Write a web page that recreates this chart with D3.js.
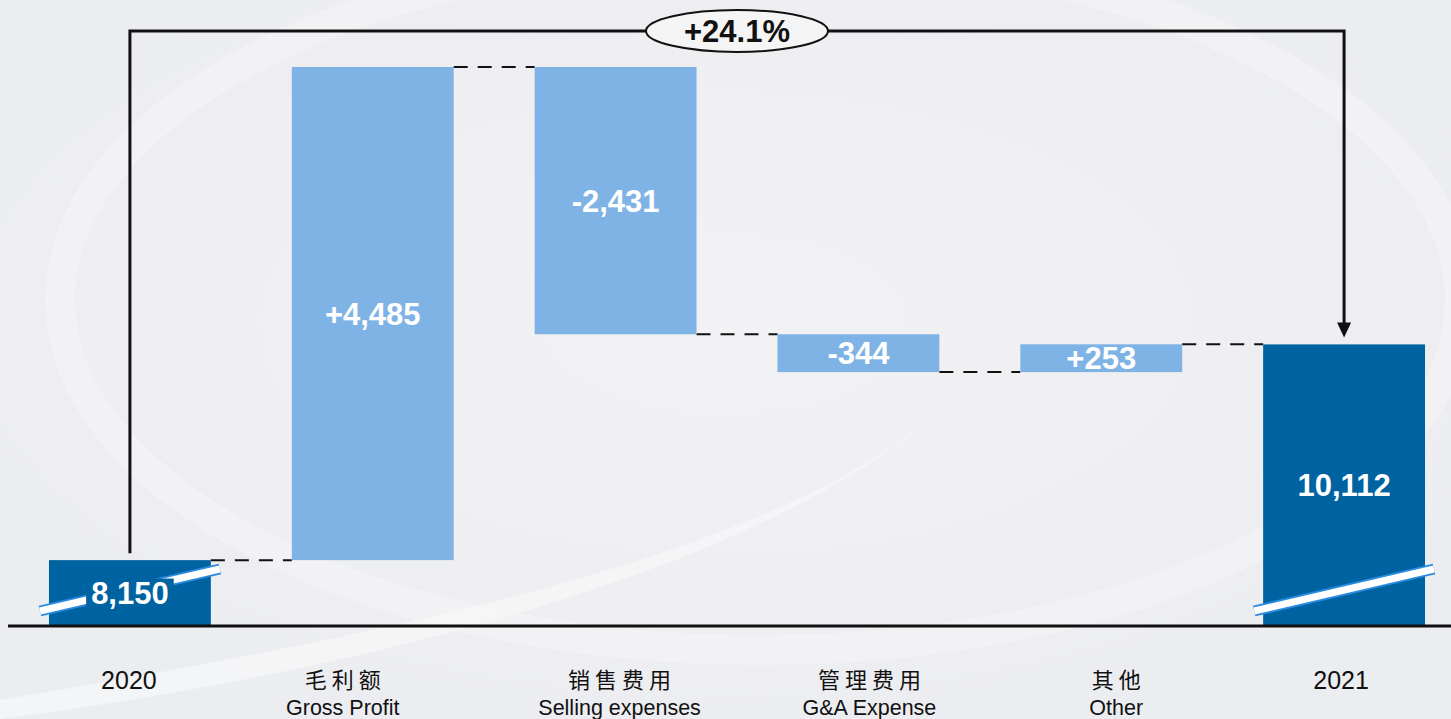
<!DOCTYPE html>
<html lang="zh">
<head>
<meta charset="utf-8">
<title>Waterfall 2020-2021</title>
<script src="https://cdn.jsdelivr.net/npm/d3@7"></script>
<style>
  html, body { margin: 0; padding: 0; overflow: hidden; background: #eff0f2; }
  .val { font-family: "Liberation Sans", Arial, sans-serif; font-weight: bold; font-size: 31px; fill: #fff; text-anchor: middle; }
  .cn { font-family: "Noto Sans CJK SC", sans-serif; font-size: 22px; fill: #111; text-anchor: middle; letter-spacing: 5px; }
  .en { font-family: "Liberation Sans", Arial, sans-serif; font-size: 21.5px; fill: #111; text-anchor: middle; }
  .yr { font-family: "Liberation Sans", Arial, sans-serif; font-size: 25px; fill: #111; text-anchor: middle; }
</style>
</head>
<body>
<div id="chart"></div>
<script>
// data
var categories = ["2020", "Gross Profit", "Selling expenses", "G&A Expense", "Other", "2021"];
var cnLabels = ["", "毛利额", "销售费用", "管理费用", "其他", ""];
var values = [8150, 4485, -2431, -344, 253, 10112];
var kinds = ["total", "delta", "delta", "delta", "delta", "total"];
var valueLabels = ["8,150", "+4,485", "-2,431", "-344", "+253", "10,112"];
var growthLabel = "+24.1%";
var axisFloor = 7560;   // broken axis: value shown at the baseline

var W = 1451, H = 719;
var baseY = 625, topY = 67;
// category labels are not exactly centred under the bars in the original
var labelShift = [-1, -30, 4, 11, 15, -3];

var svg = d3.select("#chart").append("svg")
  .attr("width", W).attr("height", H);

// soft background swoosh
var defs = svg.append("defs");
var rg = defs.append("radialGradient").attr("id", "bgGlow")
  .attr("cx", "50%").attr("cy", "45%").attr("r", "60%");
rg.append("stop").attr("offset", "0%").attr("stop-color", "#f2f2f4");
rg.append("stop").attr("offset", "100%").attr("stop-color", "#ecedf0");
svg.append("rect").attr("width", W).attr("height", H).attr("fill", "url(#bgGlow)");
svg.append("ellipse").attr("cx", 760).attr("cy", 300).attr("rx", 700).attr("ry", 350)
  .attr("fill", "none").attr("stroke", "#f5f5f7").attr("stroke-width", 30).attr("opacity", 0.55);
svg.append("path")
  .attr("d", "M0,700 C350,640 800,560 960,390 C820,540 450,660 0,719 Z")
  .attr("fill", "#f6f6f8").attr("opacity", 0.8);

// waterfall steps
var steps = [];
var running = 0;
values.forEach(function(v, i) {
  if (kinds[i] == "total") {
    steps.push({ i: i, start: axisFloor, end: v, level: v });
    running = v;
  } else {
    steps.push({ i: i, start: running, end: running + v, level: running + v });
    running = running + v;
  }
});
var maxV = d3.max(steps, function(d) { return Math.max(d.start, d.end); });

var x = d3.scaleBand()
  .domain(d3.range(categories.length))
  .range([8.5, 1465.5])
  .paddingInner(1 / 3)
  .paddingOuter(1 / 6);

var y = d3.scaleLinear()
  .domain([axisFloor, maxV])
  .range([baseY, topY]);

// connectors
for (var k = 0; k < steps.length - 1; k++) {
  var lv = steps[k].level;
  svg.append("line")
    .attr("x1", x(k) + x.bandwidth()).attr("x2", x(k + 1))
    .attr("y1", y(lv)).attr("y2", y(lv))
    .attr("stroke", "#111").attr("stroke-width", 2)
    .attr("stroke-dasharray", "14,10");
}

// bars
svg.selectAll("rect.bar")
  .data(steps)
  .enter()
  .append("rect")
  .attr("class", "bar")
  .attr("x", function(d) { return x(d.i); })
  .attr("width", x.bandwidth())
  .attr("y", function(d) { return y(Math.max(d.start, d.end)); })
  .attr("height", function(d) { return Math.abs(y(d.start) - y(d.end)); })
  .attr("fill", function(d) { return kinds[d.i] == "total" ? "#0063a1" : "#80b3e5"; });

// break marks on the total bars
steps.filter(function(d) { return kinds[d.i] == "total"; }).forEach(function(d) {
  var x0 = x(d.i) - 9, x1 = x(d.i) + x.bandwidth() + 9;
  var y0 = baseY - 14, y1 = baseY - 56;
  var g = svg.append("g");
  g.append("line").attr("x1", x0).attr("y1", y0).attr("x2", x1).attr("y2", y1)
    .attr("stroke", "#2a8ce0").attr("stroke-width", 11);
  g.append("line").attr("x1", x0).attr("y1", y0).attr("x2", x1).attr("y2", y1)
    .attr("stroke", "#fff").attr("stroke-width", 7);
});

// value labels
steps.forEach(function(d) {
  var cx = x(d.i) + x.bandwidth() / 2;
  var cy = (y(d.start) + y(d.end)) / 2;
  var t = svg.append("text").attr("class", "val").attr("x", cx).attr("y", cy + 11).text(valueLabels[d.i]);
  if (d.i == 0) {
    // label box sits over the break mark
    var bb = t.node().getBBox();
    svg.insert("rect", function() { return t.node(); })
      .attr("x", bb.x - 5).attr("y", bb.y + 3).attr("width", bb.width + 10).attr("height", bb.height - 6)
      .attr("fill", "#0063a1");
  }
});

// baseline
svg.append("line").attr("x1", 8).attr("x2", W).attr("y1", baseY + 1).attr("y2", baseY + 1)
  .attr("stroke", "#111").attr("stroke-width", 3);

// category labels
categories.forEach(function(c, i) {
  var cx = x(i) + x.bandwidth() / 2 + labelShift[i];
  if (kinds[i] == "total") {
    svg.append("text").attr("class", "yr").attr("x", cx).attr("y", 689).text(c);
  } else {
    svg.append("text").attr("class", "cn").attr("x", cx + 2.5).attr("y", 688).text(cnLabels[i]);
    svg.append("text").attr("class", "en").attr("x", cx).attr("y", 715).text(c);
  }
});

// growth bracket
var xa = x(0) + x.bandwidth() / 2;
var xb = x(5) + x.bandwidth() / 2;
var yTop = 31;
svg.append("path")
  .attr("d", "M" + xa + "," + (y(values[0]) - 7) + " V" + yTop + " H" + xb + " V" + (y(values[5]) - 20))
  .attr("fill", "none").attr("stroke", "#111").attr("stroke-width", 3);
svg.append("path")
  .attr("d", "M" + (xb - 7) + "," + (y(values[5]) - 22) + " L" + (xb + 7) + "," + (y(values[5]) - 22) +
        " L" + xb + "," + (y(values[5]) - 7) + "Z")
  .attr("fill", "#111");
var ex = 737;
svg.append("ellipse").attr("cx", ex).attr("cy", yTop).attr("rx", 91).attr("ry", 21)
  .attr("fill", "#f5f5f5").attr("stroke", "#111").attr("stroke-width", 2);
svg.append("text").attr("x", ex).attr("y", yTop + 11)
  .attr("text-anchor", "middle")
  .style("font-family", "Liberation Sans, Arial, sans-serif")
  .style("font-weight", "bold").style("font-size", "31px").attr("fill", "#111")
  .text(growthLabel);
</script>
</body>
</html>
